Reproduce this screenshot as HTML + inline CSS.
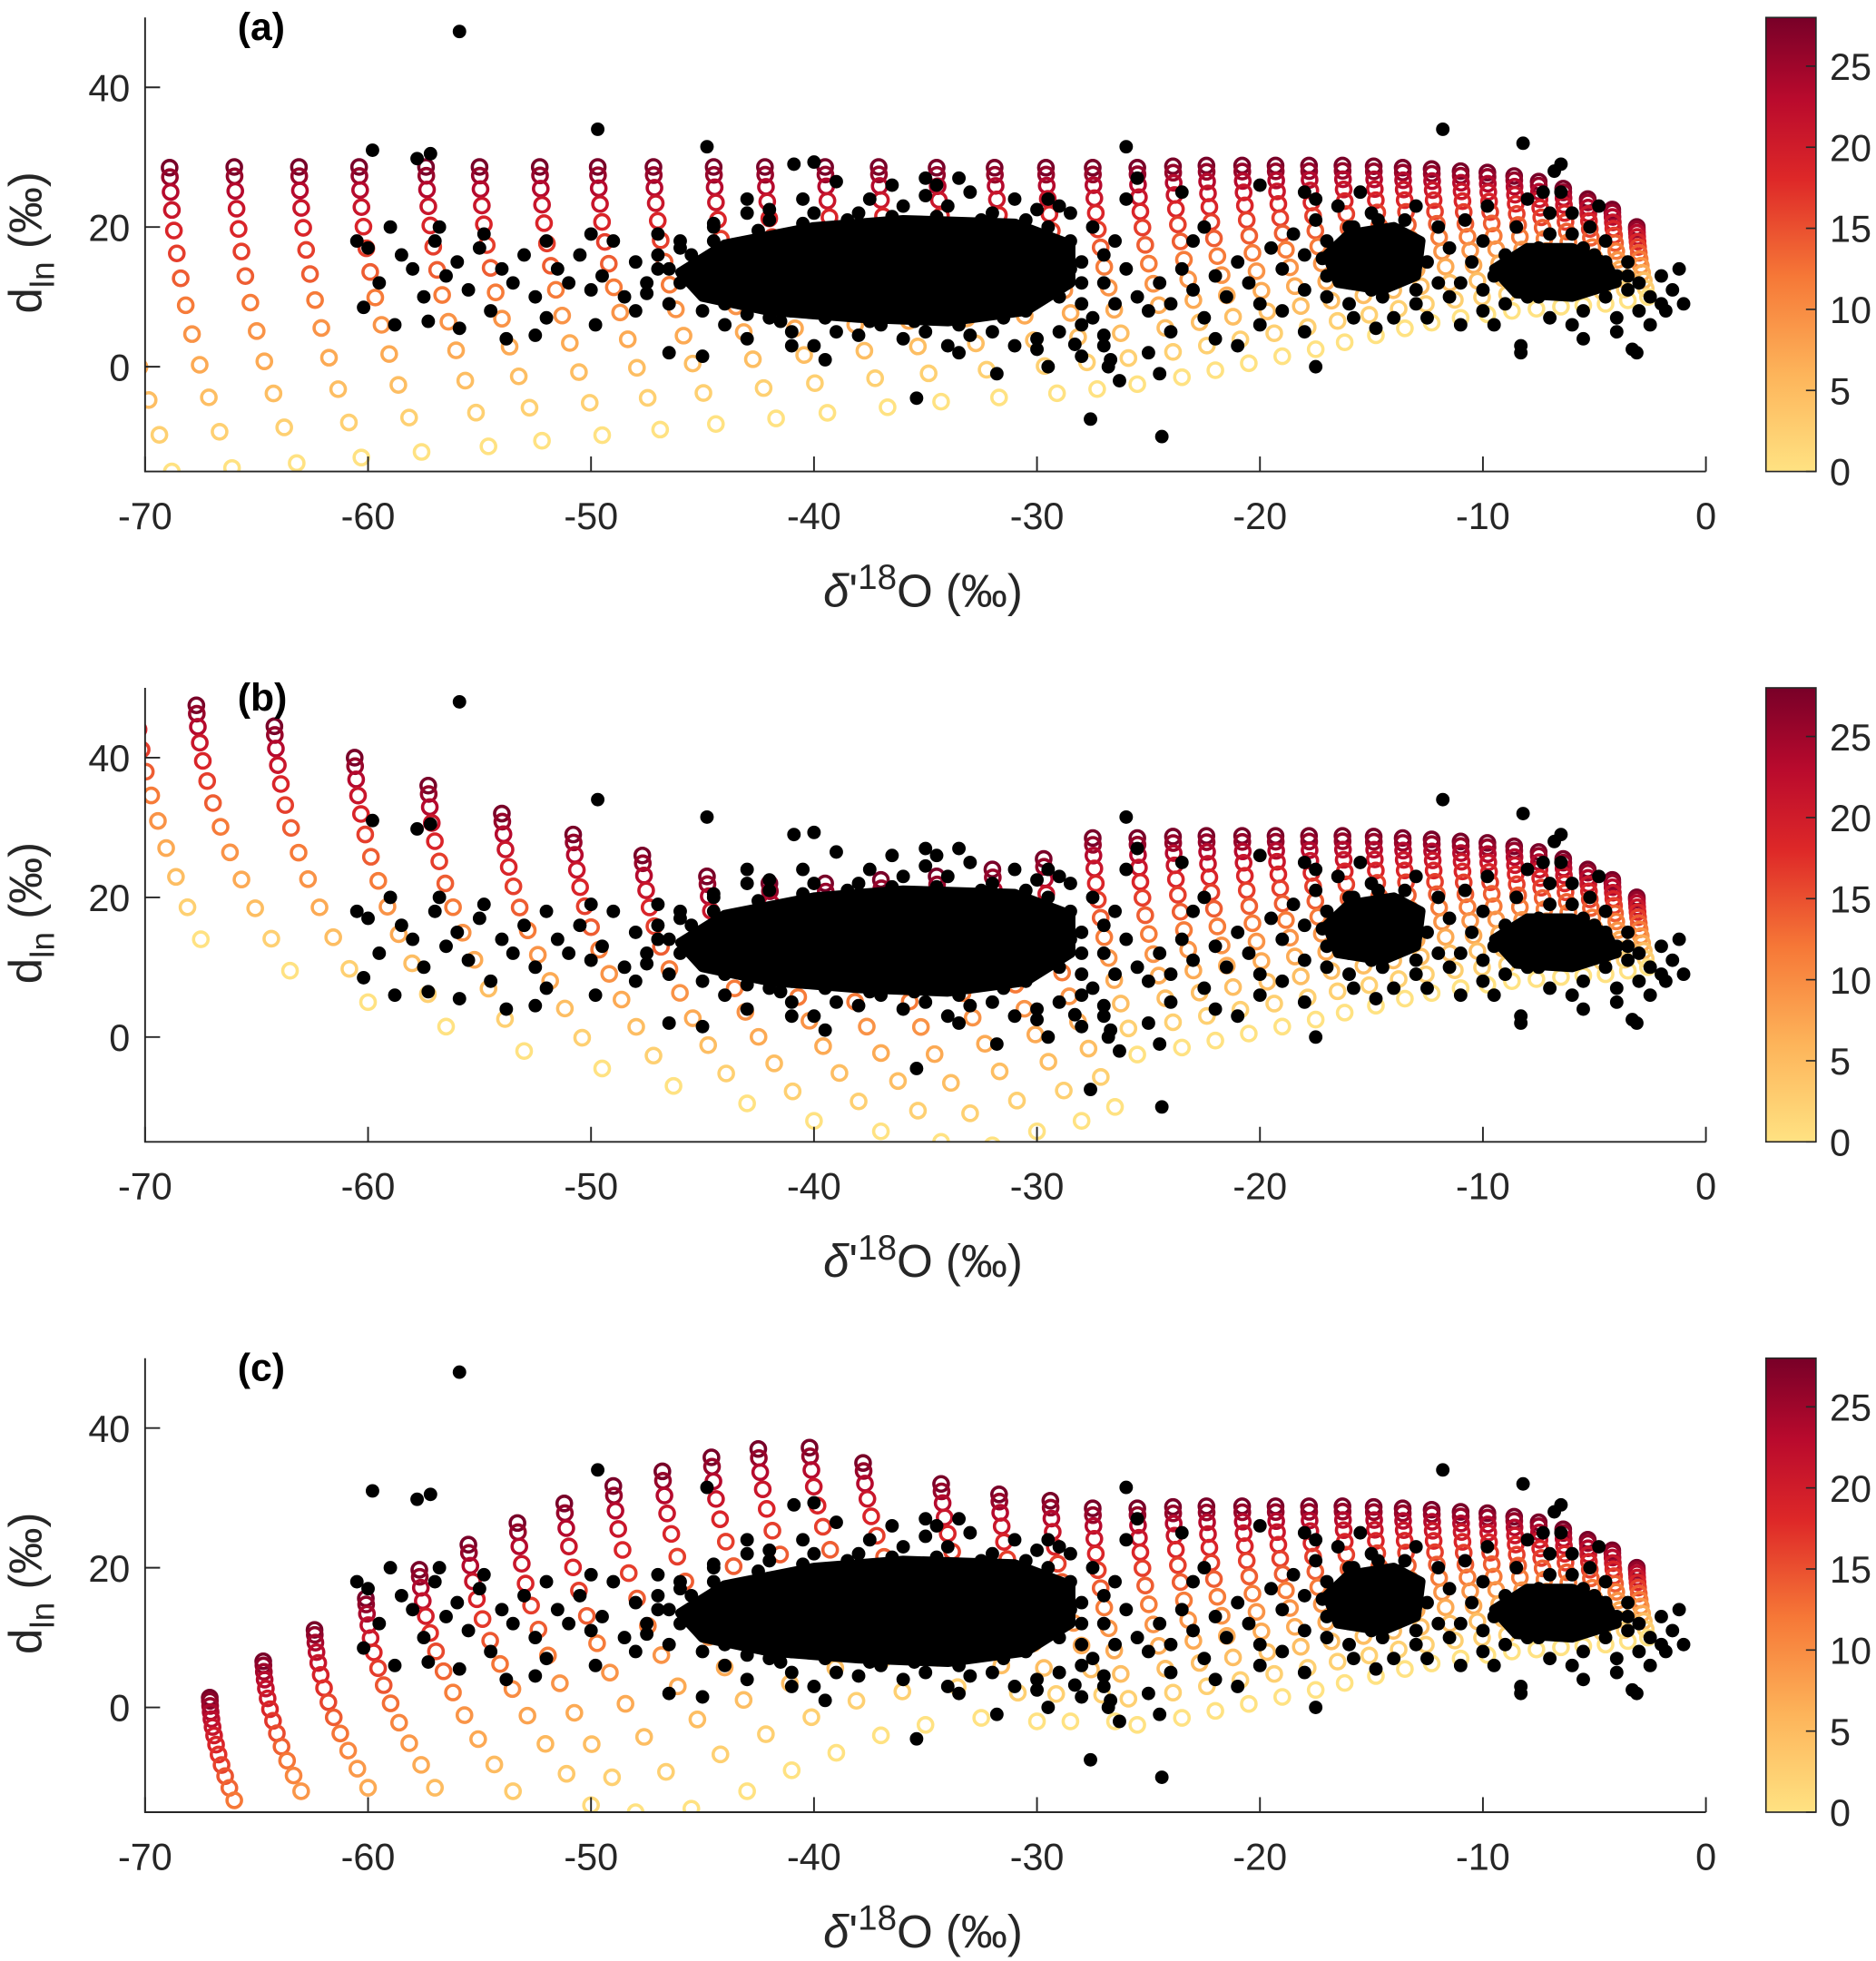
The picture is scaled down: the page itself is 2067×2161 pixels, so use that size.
<!DOCTYPE html>
<html><head><meta charset="utf-8"><title>d_ln vs δ'18O</title>
<style>
html,body{margin:0;padding:0;background:#fff;}
svg{display:block;font-family:"Liberation Sans",Arial,sans-serif;}
</style></head>
<body>
<svg id="chart" width="2067" height="2161" viewBox="0 0 1500 1568" preserveAspectRatio="none" xmlns="http://www.w3.org/2000/svg">
<defs>
<linearGradient id="cmap" x1="0" y1="1" x2="0" y2="0"></linearGradient>
</defs>
<rect x="0" y="0" width="1500" height="1568" fill="#fff"/>
</svg>
<script>
// ---- data ----
const xTicks = [-70,-60,-50,-40,-30,-20,-10,0];
const yTicks = [0,20,40];
const cbTicks = [0,5,10,15,20,25];
const panelLabels = ["(a)","(b)","(c)"];
// model curves: [deltaTop, dTop, deltaBottom, dBottom, tempBottom]
const rightCurves = [[-27.5,28.5,-25.5,-2.5,0],[-25.5,28.5,-23.5,-1.5,0],[-23.9,28.7,-22,-0.5,0],[-22.4,28.8,-20.5,0.5,0],[-20.8,28.8,-19,1.5,0],[-19.3,28.8,-17.5,2.5,0],[-17.8,28.8,-16.2,3.5,0],[-16.3,28.8,-14.8,4.5,0],[-14.9,28.7,-13.5,5.5,0],[-13.6,28.5,-12.3,6.3,0],[-12.3,28.3,-11,7,0],[-11,28,-9.8,7.5,0],[-9.8,27.8,-8.7,8,0],[-8.6,27.3,-7.6,8.3,0],[-7.5,26.5,-6.5,8.6,0],[-6.4,25.5,-5.5,8.8,0],[-5.3,24,-4.5,9,0],[-4.2,22.5,-3.5,9.5,0],[-3.1,20,-2.6,10,0]];
const curvesA = [[-71.6,28.5,-68.8,-15,0],[-68.9,28.5,-66.1,-14.5,0],[-66,28.6,-63.2,-13.8,0],[-63.1,28.6,-60.3,-13,0],[-60.4,28.6,-57.6,-12.2,0],[-57.4,28.6,-54.6,-11.4,0],[-55,28.6,-52.2,-10.6,0],[-52.3,28.6,-49.5,-9.8,0],[-49.7,28.6,-46.9,-9,0],[-47.2,28.6,-44.4,-8.2,0],[-44.5,28.6,-41.7,-7.4,0],[-42.2,28.6,-39.4,-6.6,0],[-39.5,28.6,-36.7,-5.8,0],[-37.1,28.6,-34.3,-5,0],[-34.5,28.5,-31.7,-4.4,0],[-31.9,28.5,-29.1,-3.8,0],[-29.6,28.5,-27.3,-3.2,0]];
const curvesB = [[-70.5,52,-67.5,14,0],[-67.7,47.5,-63.5,9.5,0],[-64.2,44.5,-60,5,0],[-60.6,40,-56.5,1.5,0],[-57.3,36,-53,-2,0],[-54,32,-49.5,-4.5,0],[-50.8,29,-46.3,-7,0],[-47.7,26,-43,-9.5,0],[-44.8,23,-40,-12,0],[-42,22,-37,-13.5,0],[-39.5,22,-34.3,-15,0],[-37,22.5,-32,-15.5,0],[-34.5,23,-30,-13.5,0],[-32,24,-28,-12,0],[-29.7,25.5,-26.5,-10,0]];
const curvesC = [[-67.1,1.4,-66,-13.3,12],[-64.7,6.6,-63,-12,9],[-62.4,11.1,-60,-11.5,7],[-60.1,15.6,-57,-11.5,5],[-57.7,19.7,-53.5,-12,3],[-55.5,23.3,-50,-14,1],[-53.3,26.4,-48,-15,0],[-51.2,29.2,-45.5,-14.5,0],[-49,31.7,-43,-12,0],[-46.8,33.8,-41,-9,0],[-44.6,35.8,-39,-6.5,0],[-42.5,37,-37,-4,0],[-40.2,37.2,-35,-2.5,0],[-37.8,35,-32.5,-1.5,0],[-34.3,32,-30,-2,0],[-31.7,30.5,-28.5,-2,0],[-29.4,29.6,-26.5,-2,0]];
// observations (delta'18O, d_ln)
const obsCore = [[-46,13.5],[-44,17.5],[-40,20],[-36,21],[-31,20.5],[-28.5,17.5],[-28.5,12],[-30.5,8],[-34,6.5],[-38,7],[-42,8],[-45,10]];
const obsCore2 = [[-17,16],[-16,19],[-14,20],[-12.8,18],[-13,13],[-14.5,11],[-16.5,12]];
const obsCore3 = [[-9.5,14],[-8,17],[-6,17],[-4.5,15],[-4,12],[-6,10],[-8.5,10.5]];
const obs = [[-60.5,18],[-60,17],[-59.5,12],[-60.2,8.5],[-58.5,16],[-58,14],[-57.5,10],[-57,18],[-56.5,13],[-56,15],[-55.5,11],[-55,17],[-54.5,8],[-54,14],[-53.5,12],[-53,16],[-52.5,10],[-52,7],[-51.5,14],[-51,12],[-50.5,16],[-50,11],[-49.5,13],[-49,18],[-48.5,10],[-48,15],[-47.5,12],[-47,14],[-46.5,9],[-46,17],[-45.5,13],[-45,11],[-58.8,6],[-57.3,6.5],[-55.9,5.5],[-53.8,4],[-52.5,4.5],[-49.8,6],[-48,8],[-46.5,2],[-59,20],[-56.8,20],[-54.8,19],[-52,18],[-50,19],[-47,19],[-44.5,20],[-43,22],[-42,22.5],
[-44,6],[-43,4],[-42,7],[-41,5],[-40,3],[-39,5],[-38,4.5],[-37,6],[-36,4],[-35,5],[-34,3],[-33,4.5],[-32,5],[-31,3],[-30,4],[-29,5],[-28,6],[-27.5,7],[-27,3],[-28,1.5],[-26.5,9],[-27,12],[-26,14],[-27,16],[-26.5,18],[-27.5,20],[-28.5,22],[-30,22.5],[-32,22],[-34,23],[-36,23],[-38,22],[-40,22],[-42,21],[-44.5,20.5],[-46,18],[-47,16],[-45,8],[-44,11],[-36.5,26],[-35,24.5],[-33,25],[-31,24],[-29,23],[-37.5,24],[-40.5,24],[-39,26.5],[-43,24],[-29.5,0],[-31.8,-1],[-35.4,-4.5],[-41,3],[-45,1.5],[-39.5,1],[-33.5,2],[-30,2.5],[-28.3,3.2],[-27,4.5],[-26.8,0],[-27.6,-7.5],[-26.3,-2],[-24.4,-10],[-26.7,1],[-34.5,26],[-33.5,27],
[-46,12],[-45.5,16],[-44.5,18],[-44,9],[-43,7.5],[-42.5,19.5],[-41.5,6.5],[-40.5,20.5],[-39.5,7],[-38.5,21],[-37.5,6.5],[-36.5,21.5],[-35.5,6.5],[-34.5,21.5],[-33.5,6],[-32.5,21],[-31.5,7],[-30.5,21],[-30.5,8],[-29.5,20],[-29,10],[-28.5,14],[-28.5,18],[-28,9],[-28,12],[-28,15],[-43.5,14],[-42,12],[-44,15.5],[-46.5,14],[-47.5,10.5],[-41,8],[-37,8],[-33,8],[-30,18.5],[-39,19.5],[-35,20.5],
[-25.5,10],[-25,8],[-24.5,12],[-24,9],[-23.5,14],[-23,11],[-22.5,7],[-22,13],[-21.5,10],[-21,15],[-20.5,12],[-20,9],[-19.5,17],[-19,14],[-18.5,19],[-18,16],[-17.5,21],[-24,5],[-22,4],[-25,2],[-20,6],[-19,8],[-23,18],[-26,24],[-25.5,27],[-24.5,-1],[-21,3],[-17.5,0],[-18,5],[-22.5,20],
[-17,18],[-16.5,15],[-16,20],[-16,12],[-15.5,17],[-15,14],[-15,22],[-14.5,10],[-14.5,19],[-14,16],[-13.5,13],[-13.5,21],[-13,18],[-13,9],[-12.5,15],[-12,12],[-12,20],[-17,13],[-16,9],[-15,11],[-14,7],[-13,23],[-17.5,24],[-16.5,23],[-15.5,25],[-12.5,7],[-11.5,10],[-17,10],[-18,11],[-15.8,7],[-14.8,5.5],[-16.5,17],[-15.2,18],[-14,13],[-13.2,16],[-16.3,14.5],[-17.2,15.5],[-14.7,21],[-15.8,20],[-14,18.5],[-13,11],[-15.5,15.5],[-14.5,13.5],[-16,17],[-13.8,19.5],[-15,16.5],
[-11,12],[-10.5,15],[-10,11],[-10,18],[-9.5,13],[-9,16],[-9,9],[-8.5,20],[-8.5,12],[-8,14],[-7.5,10],[-7.5,17],[-7,13],[-7,22],[-6.5,15],[-6.5,25],[-6,11],[-6,19],[-5.5,14],[-5.5,8],[-5,16],[-5,12],[-4.5,18],[-4.5,10],[-4,13],[-4,7],[-3.5,15],[-3.5,11],[-3,12],[-3,8],[-2.5,10],[-2,13],[-2,9],[-1.5,11],[-1,9],[-1.2,14],[-11.5,17],[-10.8,21],[-9.8,23],[-8,24],[-6.8,28],[-6.5,29],[-7.3,25],[-6,22],[-5.2,20],[-4.8,23],[-8.2,32],[-11.8,34],[-8.3,3],[-8.3,2],[-5.5,4],[-3.3,2.5],[-3.1,2],[-9.5,6],[-7,7],[-6,6],[-4,5],[-2.5,6],[-1.8,8],[-10,8],[-11,6],[-8,10],[-7,19],[-5.5,17],[-9,14],[-4.5,15],[-6.5,12.5],[-3.5,13],
[-55.9,48],[-59.8,31],[-57.8,29.8],[-57.2,30.5],[-49.7,34],[-44.8,31.5],[-40.9,29],[-40,29.3],[-35,27],[-29.5,24],[-26,31.5],[-23.5,25],[-20,26],[-18,25]];

// ---- drawing ----
const NS = "http://www.w3.org/2000/svg";
const svg = document.getElementById('chart');
const X0 = 116, X1 = 1364, XMIN = -70, XMAX = 0, YMIN = -15, YMAX = 50, TMAX = 28;
const panelTops = [14, 550, 1086];
const PH = 363;
function mk(tag, attrs, parent){ const e = document.createElementNS(NS, tag); for (const k in attrs) e.setAttribute(k, attrs[k]); (parent||svg).appendChild(e); return e; }
const stops = [[0,[255,226,130]],[6,[253,180,90]],[12,[246,120,55]],[18,[222,40,40]],[23,[185,10,45]],[28,[120,0,40]]];
function cmap(t){ t = Math.max(0, Math.min(TMAX, t)); for (let i=1;i<stops.length;i++){ if (t<=stops[i][0]){ const a=stops[i-1], b=stops[i]; const f=(t-a[0])/(b[0]-a[0]); const c=a[1].map((v,j)=>Math.round(v+(b[1][j]-v)*f)); return `rgb(${c[0]},${c[1]},${c[2]})`; } } return 'rgb(120,0,40)'; }
const grad = svg.querySelector('#cmap');
stops.forEach(s => { const st = document.createElementNS(NS,'stop'); st.setAttribute('offset', (s[0]/TMAX*100)+'%'); st.setAttribute('stop-color', cmap(s[0])); grad.appendChild(st); });

const allCurves = [curvesA.concat(rightCurves), curvesB.concat(rightCurves), curvesC.concat(rightCurves)];
const defs = svg.querySelector('defs');

panelTops.forEach((top, p) => {
  const bottom = top + PH;
  const xs = v => X0 + (v - XMIN) / (XMAX - XMIN) * (X1 - X0);
  const ys = v => bottom - (v - YMIN) / (YMAX - YMIN) * PH;
  const g = mk('g', {});
  
  
  const cp = mk('clipPath', {id: 'clip'+p}, defs);
  mk('rect', {x: X0, y: top, width: X1-X0, height: PH}, cp);
  const plot = mk('g', {'clip-path': `url(#clip${p})`}, g);
  
  
  allCurves[p].forEach((c) => {
    const cg = mk('g', {}, plot);
    
    
    const [dt, ht, db, hb, tb] = c;
    const n = 13;
    const c1x = dt + 0.05*(db-dt), c1y = hb + 0.55*(ht-hb);
    for (let k=0;k<n;k++){
      const t = Math.pow(k/(n-1), 1.35);
      const bx = (1-t)*(1-t)*dt + 2*(1-t)*t*c1x + t*t*db;
      const by = (1-t)*(1-t)*ht + 2*(1-t)*t*c1y + t*t*hb;
      const temp = TMAX - (k/(n-1))*(TMAX - tb);
      const ci2 = mk('circle', {cx: xs(bx), cy: ys(by), r: 5.8, fill: 'none', stroke: cmap(temp), 'stroke-width': 2.6}, cg);
      
      
    }
  });
  [obsCore, obsCore2, obsCore3].forEach(poly => {
    const core = mk('polygon', {points: poly.map(q => xs(q[0])+','+ys(q[1])).join(' '), fill: '#000', 'stroke': '#000', 'stroke-width': 8, 'stroke-linejoin': 'round'}, plot);
    
    
  });
  obs.forEach(q => {
    const d = mk('circle', {cx: xs(q[0]), cy: ys(q[1]), r: 5.4, fill: '#000'}, plot);
    
    
  });
  const ax = mk('path', {d: `M${X0},${top} L${X0},${bottom} L${X1},${bottom}`, fill: 'none', stroke: '#262626', 'stroke-width': 1.4}, g);
  
  
  xTicks.forEach(v => {
    mk('line', {x1: xs(v), x2: xs(v), y1: bottom, y2: bottom-12, stroke: '#262626', 'stroke-width': 1.4}, g);
    const t = mk('text', {x: xs(v), y: bottom+46, 'font-size': 30, fill: '#262626', 'text-anchor': 'middle'}, g);
    t.textContent = v;
    
    
  });
  yTicks.forEach(v => {
    mk('line', {x1: X0, x2: X0+12, y1: ys(v), y2: ys(v), stroke: '#262626', 'stroke-width': 1.4}, g);
    const t = mk('text', {x: X0-12, y: ys(v)+11, 'font-size': 30, fill: '#262626', 'text-anchor': 'end'}, g);
    t.textContent = v;
    
    
  });
  const xl = mk('text', {x: 738, y: bottom+108, 'font-size': 37, fill: '#262626', 'text-anchor': 'middle'}, g);
  xl.innerHTML = '<tspan font-style="italic">δ</tspan>\'<tspan font-size="28" dy="-14">18</tspan><tspan dy="14">O (‰)</tspan>';
  
  
  const yl = mk('text', {x: 0, y: 0, 'font-size': 37, fill: '#262626', 'text-anchor': 'middle', transform: `translate(33,${top+180}) rotate(-90)`}, g);
  yl.innerHTML = 'd<tspan font-size="27" dy="10">ln</tspan><tspan dy="-10"> (‰)</tspan>';
  
  
  const pl = mk('text', {x: 190, y: top+18, 'font-size': 31, 'font-weight': 'bold', fill: '#000'}, g);
  pl.textContent = panelLabels[p];
  
  
  const cb = mk('g', {}, g);
  
  
  mk('rect', {x: 1412, y: top, width: 40, height: PH, fill: 'url(#cmap)', stroke: '#262626', 'stroke-width': 1.2}, cb);
  cbTicks.forEach(v => {
    const yy = bottom - v/TMAX*PH;
    mk('line', {x1: 1444, x2: 1452, y1: yy, y2: yy, stroke: '#262626', 'stroke-width': 1.2}, cb);
    const t = mk('text', {x: 1463, y: yy+11, 'font-size': 30, fill: '#262626'}, cb);
    t.textContent = v;
    
    
  });
});
</script>
</body></html>
